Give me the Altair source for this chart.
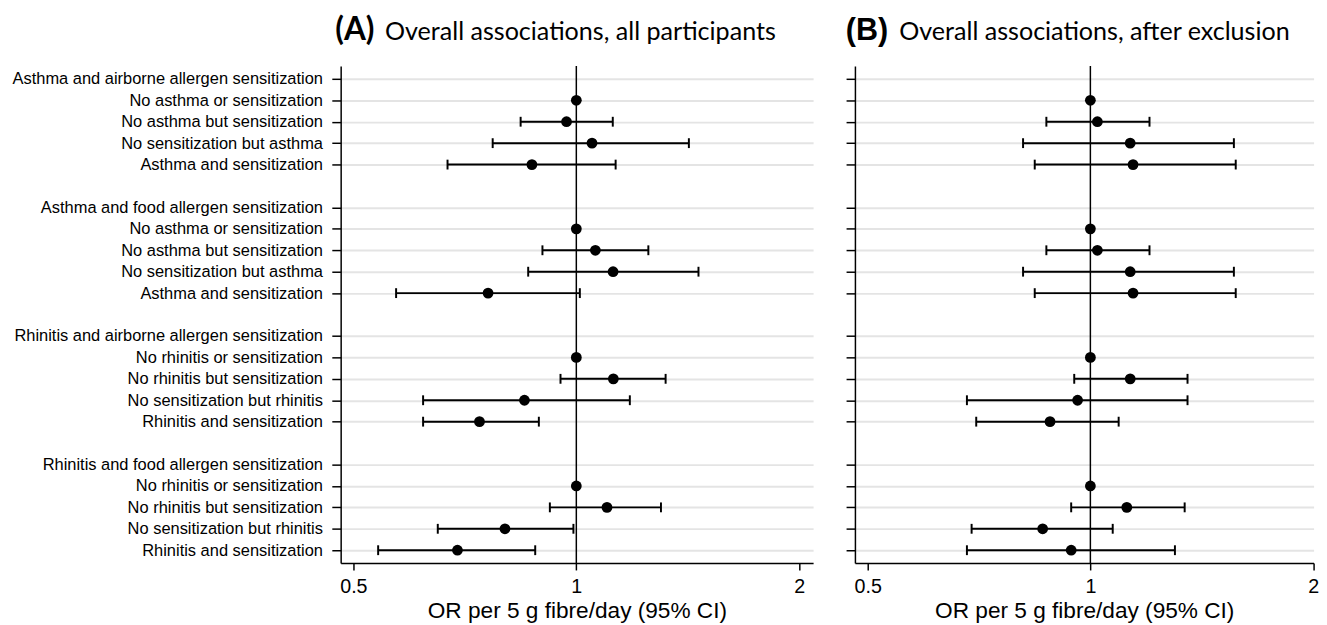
import altair as alt
import pandas as pd

# ---------------- data ----------------
row_labels = [
    "Asthma and airborne allergen sensitization",
    "No asthma or sensitization",
    "No asthma but sensitization",
    "No sensitization but asthma",
    "Asthma and sensitization",
    "",
    "Asthma and food allergen sensitization",
    "No asthma or sensitization",
    "No asthma but sensitization",
    "No sensitization but asthma",
    "Asthma and sensitization",
    "",
    "Rhinitis and airborne allergen sensitization",
    "No rhinitis or sensitization",
    "No rhinitis but sensitization",
    "No sensitization but rhinitis",
    "Rhinitis and sensitization",
    "",
    "Rhinitis and food allergen sensitization",
    "No rhinitis or sensitization",
    "No rhinitis but sensitization",
    "No sensitization but rhinitis",
    "Rhinitis and sensitization",
]

# Panel A: all participants
or_a = [None, 1.0, 0.970, 1.050, 0.871, None,
        None, 1.0, 1.061, 1.121, 0.760, None,
        None, 1.0, 1.122, 0.851, 0.740, None,
        None, 1.0, 1.100, 0.801, 0.691]
lo_a = [None, None, 0.841, 0.771, 0.670, None,
        None, None, 0.900, 0.861, 0.571, None,
        None, None, 0.952, 0.621, 0.621, None,
        None, None, 0.921, 0.650, 0.540]
hi_a = [None, None, 1.120, 1.419, 1.130, None,
        None, None, 1.251, 1.462, 1.011, None,
        None, None, 1.320, 1.181, 0.890, None,
        None, None, 1.301, 0.991, 0.880]

# Panel B: after exclusion
or_b = [None, 1.0, 1.022, 1.132, 1.142, None,
        None, 1.0, 1.022, 1.132, 1.142, None,
        None, 1.0, 1.132, 0.961, 0.882, None,
        None, 1.0, 1.120, 0.862, 0.942]
lo_b = [None, None, 0.872, 0.811, 0.841, None,
        None, None, 0.872, 0.811, 0.841, None,
        None, None, 0.951, 0.681, 0.701, None,
        None, None, 0.942, 0.691, 0.681]
hi_b = [None, None, 1.202, 1.563, 1.572, None,
        None, None, 1.202, 1.563, 1.572, None,
        None, None, 1.353, 1.353, 1.092, None,
        None, None, 1.341, 1.072, 1.301]

x_ticks = [0.5, 1, 2]
x_title = "OR per 5 g fibre/day (95% CI)"

tick_rows = [i for i, l in enumerate(row_labels) if l != ""]
label_js = "[" + ",".join("'" + l + "'" for l in row_labels) + "]"

FONT = "Liberation Sans"


def make_df(o, lo, hi):
    return pd.DataFrame({
        "row": list(range(len(row_labels))),
        "label": row_labels,
        "or": o,
        "lo": lo,
        "hi": hi,
    })


def panel(df, width, xmax, show_labels, letter, letter_font, letter_size,
          letter_dx, title_text):
    xs = alt.Scale(type="log", domain=[0.4806, xmax], nice=False)
    ys = alt.Scale(domain=[-0.6, 22.6], reverse=True, nice=False, zero=False)
    x_axis = alt.Axis(values=x_ticks, format="~g", grid=False, tickSize=7,
                      tickColor="black", tickWidth=1.5, domainColor="black",
                      domainWidth=1.5, labelFontSize=20, labelColor="black",
                      labelFont=FONT, labelPadding=7, titleFont=FONT,
                      titleFontSize=23, titleFontWeight="normal",
                      titleColor="black", titlePadding=3, labelFlush=False,
                      labelOverlap=False)
    y_axis = alt.Axis(values=tick_rows, labelExpr=label_js + "[datum.value]",
                      labels=show_labels, grid=True, gridColor="#e4e4e4",
                      gridWidth=2, tickSize=9, tickColor="black",
                      tickWidth=1.5, domainColor="black", domainWidth=1.5,
                      labelFont=FONT, labelFontSize=16.7, labelColor="black",
                      labelPadding=9.5, labelLimit=0, labelOverlap=False,
                      labelBound=False, labelSeparation=0, title=None)
    Y = alt.Y("row:Q", scale=ys, axis=y_axis)

    base = alt.Chart(df)
    valid = base.transform_filter("isValid(datum.or)")
    ci = base.transform_filter("isValid(datum.lo)")

    pts = valid.mark_circle(size=120, color="black", opacity=1).encode(
        x=alt.X("or:Q", scale=xs, axis=x_axis, title=x_title),
        y=Y,
    )
    ref = base.mark_rule(color="black", strokeWidth=1.5).encode(
        x=alt.datum(1)
    ).transform_filter("datum.row == 0")
    bars = ci.mark_rule(color="black", strokeWidth=2).encode(
        x="lo:Q", x2="hi:Q", y=Y
    )
    cap_lo = ci.mark_tick(orient="vertical", size=10, thickness=2,
                          color="black", opacity=1).encode(x="lo:Q", y=Y)
    cap_hi = ci.mark_tick(orient="vertical", size=10, thickness=2,
                          color="black", opacity=1).encode(x="hi:Q", y=Y)

    t_letter = alt.Chart(pd.DataFrame({"t": [letter]})).mark_text(
        font=letter_font, fontSize=letter_size, fontWeight="bold",
        align="left", baseline="alphabetic", color="black"
    ).encode(text="t:N", x=alt.value(letter_dx), y=alt.value(-26))
    t_main = alt.Chart(pd.DataFrame({"t": [title_text]})).mark_text(
        font="Lato", fontSize=25.5, align="left", baseline="alphabetic",
        color="black"
    ).encode(text="t:N", x=alt.value(45), y=alt.value(-26))

    return alt.layer(pts, ref, bars, cap_lo, cap_hi, t_letter, t_main).properties(
        width=width, height=505
    )


pA = panel(make_df(or_a, lo_a, hi_a), 480, 2.088, True, "(A)", "Lato", 32,
           -5.5, "Overall associations, all participants")
pB = panel(make_df(or_b, lo_b, hi_b), 466, 2.003, False, "(B)", FONT, 31,
           -9.3, "Overall associations, after exclusion")

chart = (
    alt.hconcat(pA, pB, spacing=32.5)
    .configure_view(stroke=None)
    .configure_axis(labelOverlap=False)
    .properties(
        padding={"left": 4, "top": 2, "right": 0, "bottom": 0},
        background="white",
    )
)

chart.save("out.html", embed_options={"renderer": "svg", "actions": False})
